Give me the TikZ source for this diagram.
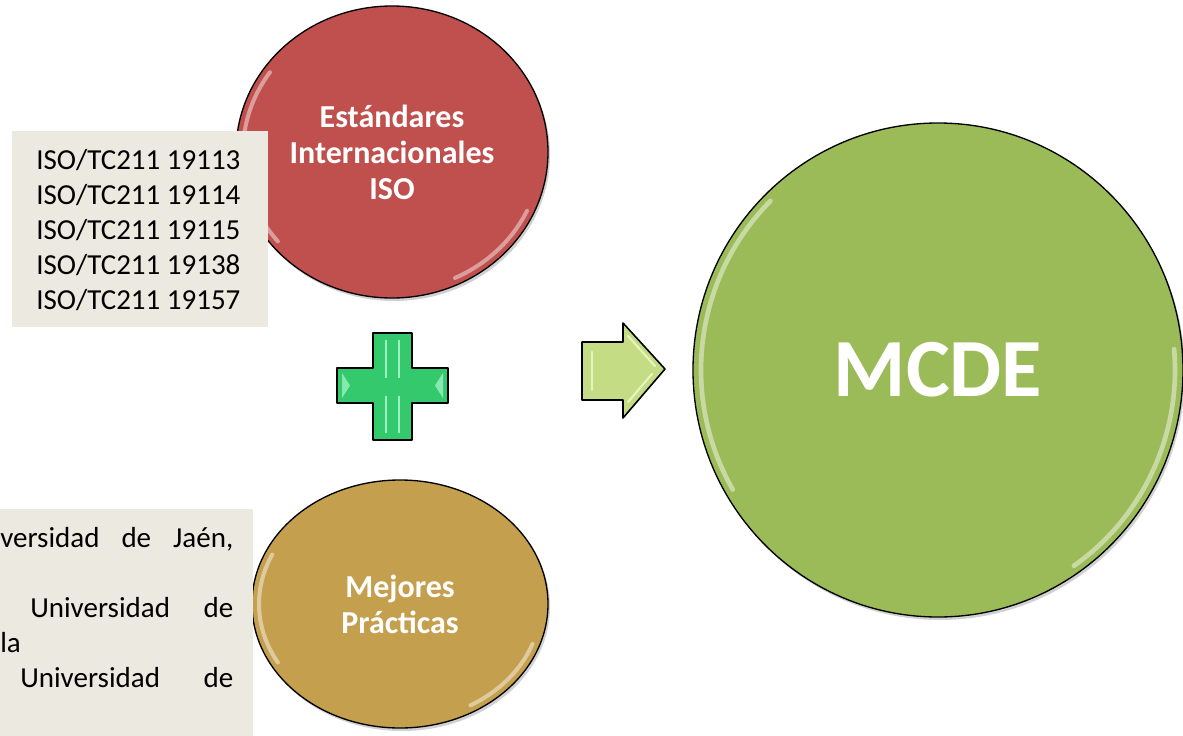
\documentclass[tikz,border=0pt]{standalone}
\usepackage{fontspec}
\setmainfont{Carlito}
\usetikzlibrary{shapes.geometric}
\definecolor{cred}{HTML}{C0504D}
\definecolor{cgold}{HTML}{C4A04E}
\definecolor{cgreen}{HTML}{9BBB59}
\definecolor{cbox}{HTML}{ECE9E0}
\definecolor{ccross}{HTML}{34C96C}
\definecolor{ccrosshl}{HTML}{9BF2C0}
\definecolor{carrow}{HTML}{C4DC84}
\definecolor{carrowhl}{HTML}{E6F5C0}
\tikzset{
  ball/.style={ellipse, draw=black, line width=1pt, inner sep=0pt, text=white,
     font=\fontsize{24}{27}\selectfont\bfseries, align=center},
  shadowball/.style={fill=black, opacity=0.18},
  hl/.style={white, opacity=0.45, line width=3pt, line cap=round},
  infobox/.style={fill=cbox, draw=none, inner sep=0pt},
  infotext/.style={font=\fontsize{21.75}{26.25}\selectfont, text=black, inner sep=0pt},
}
\begin{document}
\begin{tikzpicture}[x=0.75pt,y=-0.75pt]
\useasboundingbox (0,0) rectangle (1183,736);
\fill[white] (0,0) rectangle (1183,736);
% shadows
\fill[shadowball] (394,155) ellipse [x radius=156, y radius=146];
\fill[shadowball] (402,607) ellipse [x radius=148, y radius=124];
\fill[shadowball] (940,373) ellipse [x radius=245, y radius=247];
% circles
\node[ball, fill=cred, minimum width=234pt, minimum height=219pt] (iso) at (392,152)
  {Estándares\\Internacionales\\ISO};
\node[ball, fill=cgold, minimum width=222pt, minimum height=186pt] (best) at (400,604)
  {Mejores\\Prácticas};
\node[ball, fill=cgreen, minimum width=367.5pt, minimum height=370.5pt,
      font=\fontsize{62}{70}\selectfont\bfseries] (mcde) at (938,370) {MCDE};
% highlights
\draw[hl] (iso.center) ++(215:149 and 139) arc[start angle=215, end angle=140, x radius=149, y radius=139];
\draw[hl] (iso.center) ++(65:149 and 139) arc[start angle=65, end angle=25, x radius=149, y radius=139];
\draw[hl] (best.center) ++(205:141 and 117) arc[start angle=205, end angle=150, x radius=141, y radius=117];
\draw[hl] (best.center) ++(60:141 and 117) arc[start angle=60, end angle=20, x radius=141, y radius=117];
\draw[hl, line width=3.5pt] (mcde.center) ++(225:237 and 239) arc[start angle=225, end angle=150, x radius=237, y radius=239];
\draw[hl, line width=3.5pt] (mcde.center) ++(55:237 and 239) arc[start angle=55, end angle=-5, x radius=237, y radius=239];
% plus sign
\coordinate (plus) at (392.5,386.5);
\filldraw[fill=ccross, draw=black, line width=1.2pt, line join=round]
  (373,333) -- (412,333) -- (412,368) -- (448,368) -- (448,403) -- (412,403) -- (412,440)
  -- (373,440) -- (373,403) -- (337,403) -- (337,368) -- (373,368) -- cycle;
\draw[ccrosshl, line width=1.6pt] (386,340) -- (386,378) (399,340) -- (399,378)
  (386,396) -- (386,433) (399,396) -- (399,433);
\fill[ccrosshl, opacity=0.8] (342,373) -- (350,385.5) -- (342,398) -- cycle;
\fill[ccrosshl, opacity=0.8] (443,373) -- (435,385.5) -- (443,398) -- cycle;
% arrow
\coordinate (arrow) at (620,370);
\filldraw[fill=carrow, draw=black, line width=1.2pt, line join=round]
  (582,342) -- (623,342) -- (623,323) -- (665,369) -- (623,418) -- (623,400) -- (582,400) -- cycle;
\draw[carrowhl, line width=2pt, line cap=round] (592,352) -- (592,390);
\draw[carrowhl, line width=1.6pt, line cap=round] (628,336) -- (655,366) (628,402) -- (652,374);
% ISO box
\node[infobox, anchor=north west, minimum width=192pt, minimum height=147pt] (isobox) at (12,131) {};
\node[infotext, anchor=north west, align=left] (isolist) at (36,149)
  {ISO/TC211 19113\\ISO/TC211 19114\\ISO/TC211 19115\\ISO/TC211 19138\\ISO/TC211 19157};
% best practices box
\node[infobox, anchor=north west, minimum width=189.75pt, minimum height=170.25pt] (refbox) at (0,509) {};
\node[infotext, anchor=base west] (l1) at (0,547) {\makebox[174.75pt][s]{versidad de Jaén,}};
\node[infotext, anchor=base west] (l3) at (30,617) {\makebox[152.25pt][s]{Universidad de}};
\node[infotext, anchor=base west] (l4) at (0,652) {la};
\node[infotext, anchor=base west] (l5) at (20,687) {\makebox[159.75pt][s]{Universidad de}};
\end{tikzpicture}
\end{document}
